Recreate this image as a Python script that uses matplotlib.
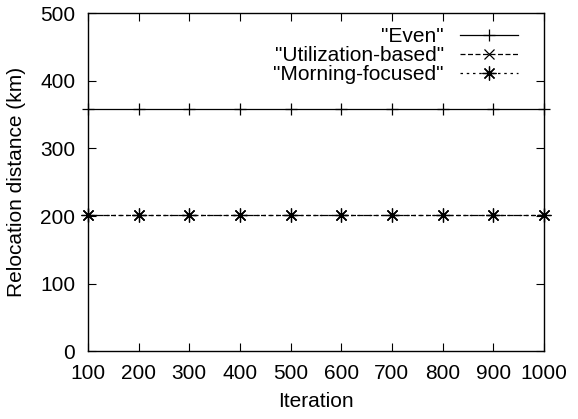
import matplotlib.pyplot as plt

plt.rcParams['font.family'] = ['Liberation Sans', 'DejaVu Sans']

# Relocation distance per iteration for each strategy
iterations = [100, 200, 300, 400, 500, 600, 700, 800, 900, 1000]
even = [358, 358, 358, 358, 358, 358, 358, 358, 358, 358]
utilization = [201, 201, 201, 201, 201, 201, 201, 201, 201, 201]
morning = [201, 201, 201, 201, 201, 201, 201, 201, 201, 201]

fig = plt.figure(figsize=(5.78, 4.19), dpi=100)
ax = fig.add_axes([0.152, 0.162, 0.789, 0.806])

ax.plot(iterations, even, color='black', lw=0.9, ls='-', marker='+',
        ms=9, mew=0.9, label='"Even"', clip_on=False)
ax.plot(iterations, utilization, color='black', lw=0.9, ls=(0, (4, 2)),
        marker='x', ms=7, mew=0.9, label='"Utilization-based"', clip_on=False)
ax.plot(iterations, morning, color='black', lw=0.9, ls=(0, (2, 3)),
        marker=(8, 2, 0), ms=10, mew=0.9, label='"Morning-focused"', clip_on=False)

ax.set_xlim(100, 1000)
ax.set_ylim(0, 500)
ax.set_xticks(iterations)
ax.set_yticks([0, 100, 200, 300, 400, 500])
ax.tick_params(direction='in', length=6, width=0.8, top=True, right=True,
               labelsize=15, pad=9)
for s in ax.spines.values():
    s.set_linewidth(1.0)

ax.set_xlabel('Iteration', fontsize=15, labelpad=7)
ax.set_ylabel('Relocation distance (km)', fontsize=15, labelpad=10)

ax.legend(loc='upper right', bbox_to_anchor=(0.943, 0.96), frameon=False,
          markerfirst=False, fontsize=15, handlelength=2.8,
          labelspacing=0.0, handletextpad=0.75, borderaxespad=0.0,
          borderpad=0.0)

fig.savefig('out.png', dpi=100)
